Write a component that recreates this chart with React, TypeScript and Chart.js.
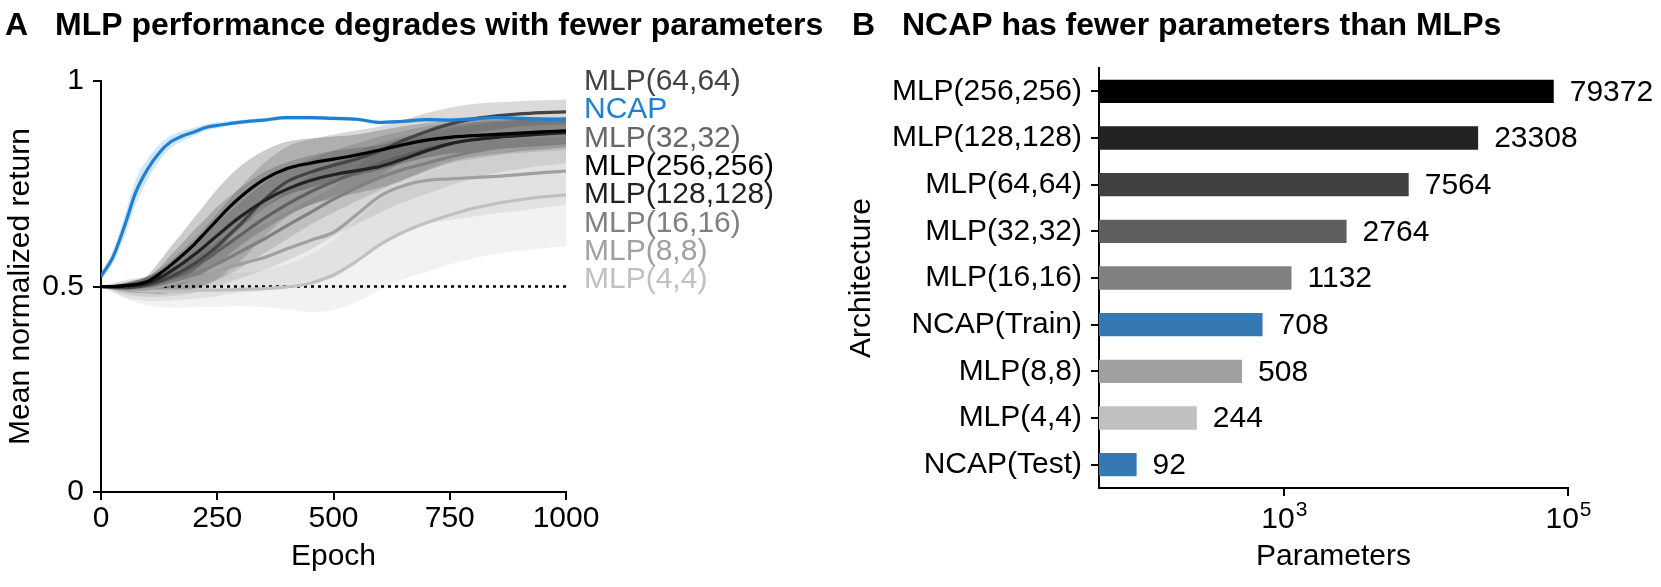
import React, { useEffect, useRef } from 'react';
import { Chart, registerables } from 'chart.js';

Chart.register(...registerables);

const FONT = '"Liberation Sans", Arial, Helvetica, sans-serif';

// ---------- Panel A data ----------
const epochs = [0, 25, 50, 75, 100, 125, 150, 175, 200, 225, 250, 275, 300, 350, 400, 450, 500, 550, 600, 650, 700, 750, 800, 850, 900, 950, 1000];

const ncapMean = [0.525, 0.57, 0.645, 0.73, 0.785, 0.825, 0.852, 0.866, 0.876, 0.887, 0.892, 0.896, 0.9, 0.905, 0.911, 0.911, 0.909, 0.907, 0.899, 0.902, 0.906, 0.905, 0.908, 0.911, 0.909, 0.907, 0.906];
const ncapStd = [0.01, 0.015, 0.025, 0.03, 0.025, 0.02, 0.015, 0.012, 0.01, 0.008, 0.007, 0.006, 0.005, 0.005, 0.005, 0.005, 0.005, 0.005, 0.005, 0.005, 0.005, 0.005, 0.005, 0.005, 0.005, 0.005, 0.005];

const mlp256Mean = [0.5, 0.5, 0.502, 0.505, 0.512, 0.53, 0.552, 0.576, 0.602, 0.632, 0.662, 0.692, 0.718, 0.76, 0.787, 0.8, 0.81, 0.82, 0.832, 0.845, 0.856, 0.863, 0.867, 0.87, 0.873, 0.876, 0.879];
const mlp256Std = [0, 0.003, 0.006, 0.01, 0.015, 0.03, 0.045, 0.055, 0.065, 0.07, 0.075, 0.075, 0.075, 0.07, 0.065, 0.06, 0.055, 0.05, 0.048, 0.045, 0.042, 0.04, 0.038, 0.036, 0.035, 0.034, 0.033];

const mlp128Mean = [0.5, 0.5, 0.501, 0.503, 0.508, 0.52, 0.537, 0.556, 0.577, 0.6, 0.624, 0.648, 0.67, 0.708, 0.737, 0.758, 0.772, 0.782, 0.792, 0.81, 0.83, 0.847, 0.857, 0.863, 0.867, 0.871, 0.875];
const mlp128Std = [0, 0.003, 0.006, 0.01, 0.015, 0.025, 0.04, 0.05, 0.06, 0.065, 0.07, 0.07, 0.07, 0.07, 0.065, 0.06, 0.058, 0.055, 0.052, 0.05, 0.047, 0.044, 0.042, 0.04, 0.038, 0.037, 0.036];

const mlp64Mean = [0.5, 0.498, 0.497, 0.499, 0.504, 0.512, 0.524, 0.538, 0.555, 0.575, 0.598, 0.625, 0.652, 0.71, 0.755, 0.778, 0.795, 0.81, 0.83, 0.855, 0.877, 0.895, 0.908, 0.915, 0.92, 0.923, 0.925];
const mlp64Std = [0, 0.005, 0.01, 0.015, 0.02, 0.03, 0.04, 0.05, 0.06, 0.07, 0.08, 0.085, 0.09, 0.09, 0.085, 0.08, 0.075, 0.07, 0.06, 0.05, 0.045, 0.04, 0.036, 0.033, 0.031, 0.03, 0.03];

const mlp32Mean = [0.5, 0.499, 0.498, 0.5, 0.503, 0.51, 0.52, 0.533, 0.548, 0.565, 0.585, 0.605, 0.625, 0.665, 0.7, 0.73, 0.755, 0.778, 0.8, 0.818, 0.835, 0.848, 0.857, 0.864, 0.868, 0.871, 0.873];
const mlp32Std = [0, 0.005, 0.01, 0.015, 0.02, 0.028, 0.035, 0.045, 0.055, 0.062, 0.07, 0.075, 0.08, 0.085, 0.085, 0.08, 0.075, 0.07, 0.065, 0.06, 0.055, 0.05, 0.047, 0.045, 0.043, 0.042, 0.04];

const mlp16Mean = [0.5, 0.498, 0.496, 0.497, 0.5, 0.505, 0.512, 0.52, 0.53, 0.542, 0.555, 0.57, 0.585, 0.615, 0.648, 0.68, 0.712, 0.74, 0.765, 0.785, 0.8, 0.815, 0.828, 0.838, 0.846, 0.852, 0.856];
const mlp16Std = [0, 0.008, 0.015, 0.02, 0.025, 0.03, 0.035, 0.04, 0.045, 0.05, 0.055, 0.06, 0.065, 0.075, 0.085, 0.09, 0.09, 0.088, 0.085, 0.08, 0.075, 0.07, 0.065, 0.062, 0.06, 0.058, 0.056];

const mlp8Mean = [0.5, 0.497, 0.494, 0.493, 0.495, 0.5, 0.506, 0.513, 0.52, 0.528, 0.537, 0.547, 0.555, 0.57, 0.592, 0.612, 0.632, 0.675, 0.72, 0.745, 0.758, 0.762, 0.765, 0.768, 0.772, 0.777, 0.781];
const mlp8Std = [0, 0.01, 0.02, 0.025, 0.03, 0.035, 0.04, 0.045, 0.05, 0.055, 0.06, 0.065, 0.07, 0.08, 0.09, 0.1, 0.11, 0.115, 0.115, 0.11, 0.105, 0.1, 0.095, 0.09, 0.088, 0.085, 0.083];

const mlp4Mean = [0.5, 0.497, 0.494, 0.491, 0.489, 0.488, 0.488, 0.489, 0.49, 0.491, 0.491, 0.492, 0.493, 0.495, 0.499, 0.508, 0.528, 0.562, 0.602, 0.632, 0.655, 0.674, 0.69, 0.702, 0.711, 0.718, 0.723];
const mlp4Std = [0, 0.012, 0.022, 0.03, 0.035, 0.038, 0.04, 0.04, 0.04, 0.04, 0.04, 0.04, 0.04, 0.045, 0.055, 0.07, 0.085, 0.1, 0.11, 0.115, 0.12, 0.12, 0.122, 0.123, 0.124, 0.125, 0.125];

const chanceLevel = 0.5;
const yTicksA = [0, 0.5, 1];
const yTickLabelsA = ['0', '0.5', '1'];
const xTicksA = [0, 250, 500, 750, 1000];
const xTickLabelsA = ['0', '250', '500', '750', '1000'];

const curveLabels = ['MLP(64,64)', 'NCAP', 'MLP(32,32)', 'MLP(256,256)', 'MLP(128,128)', 'MLP(16,16)', 'MLP(8,8)', 'MLP(4,4)'];
const curveLabelColors = ['#444444', '#1f80d2', '#666666', '#000000', '#222222', '#808080', '#a0a0a0', '#c0c0c0'];

// ---------- Panel B data ----------
const archLabels = ['MLP(256,256)', 'MLP(128,128)', 'MLP(64,64)', 'MLP(32,32)', 'MLP(16,16)', 'NCAP(Train)', 'MLP(8,8)', 'MLP(4,4)', 'NCAP(Test)'];
const paramCounts = [79372, 23308, 7564, 2764, 1132, 708, 508, 244, 92];
const barColors = ['#000000', '#222222', '#404040', '#5f5f5f', '#808080', '#3478b4', '#a0a0a0', '#c0c0c0', '#3478b4'];
const xTicksB = [1000, 100000];
const xTickBaseB = ['10', '10'];
const xTickExpB = ['3', '5'];

function rgba(hex: string, a: number) {
  const n = parseInt(hex.slice(1), 16);
  return `rgba(${(n >> 16) & 255},${(n >> 8) & 255},${n & 255},${a})`;
}

const seriesA = [
  { mean: mlp4Mean, std: mlp4Std, color: '#c0c0c0' },
  { mean: mlp8Mean, std: mlp8Std, color: '#a0a0a0' },
  { mean: mlp16Mean, std: mlp16Std, color: '#808080' },
  { mean: mlp32Mean, std: mlp32Std, color: '#606060' },
  { mean: mlp64Mean, std: mlp64Std, color: '#444444' },
  { mean: mlp128Mean, std: mlp128Std, color: '#222222' },
  { mean: mlp256Mean, std: mlp256Std, color: '#000000' },
  { mean: ncapMean, std: ncapStd, color: '#1f80d2' },
];

function titlePlugin(letter: string, letterX: number, text: string, textX: number) {
  return {
    id: 'panelTitle' + letter,
    afterDraw(chart: any) {
      const ctx = chart.ctx;
      ctx.save();
      ctx.fillStyle = '#000';
      ctx.textBaseline = 'alphabetic';
      ctx.textAlign = 'left';
      ctx.font = `bold 32px ${FONT}`;
      ctx.fillText(letter, letterX, 35);
      ctx.fillText(text, textX, 35);
      ctx.restore();
    },
  };
}

export default function App() {
  const refA = useRef<HTMLCanvasElement>(null);
  const refB = useRef<HTMLCanvasElement>(null);

  useEffect(() => {
    Chart.defaults.font.family = FONT;
    Chart.defaults.color = '#000';

    // ---------- Chart A ----------
    const datasets: any[] = [];
    seriesA.forEach((s, k) => {
      datasets.push({
        data: epochs.map((e, i) => ({ x: e, y: s.mean[i] + s.std[i] })),
        borderWidth: 0,
        pointRadius: 0,
        fill: '+1',
        backgroundColor: rgba(s.color, 0.2),
        cubicInterpolationMode: 'monotone',
        order: 200 - k * 2,
      });
      datasets.push({
        data: epochs.map((e, i) => ({ x: e, y: s.mean[i] - s.std[i] })),
        borderWidth: 0,
        pointRadius: 0,
        fill: false,
        cubicInterpolationMode: 'monotone',
        order: 199 - k * 2,
      });
    });
    datasets.push({
      data: [{ x: 0, y: chanceLevel }, { x: 1000, y: chanceLevel }],
      borderColor: '#000',
      borderWidth: 2.5,
      borderDash: [3, 4],
      pointRadius: 0,
      fill: false,
      order: 60,
    });
    seriesA.forEach((s, k) => {
      const isNcap = k === seriesA.length - 1;
      datasets.push({
        data: epochs.map((e, i) => ({ x: e, y: s.mean[i] })),
        borderColor: s.color,
        borderWidth: 3.2,
        pointRadius: 0,
        fill: false,
        cubicInterpolationMode: 'monotone',
        order: isNcap ? 0 : 50 - k,
      });
    });

    const rightLabels = {
      id: 'rightLabels',
      afterDraw(chart: any) {
        const ctx = chart.ctx;
        const y0 = chart.scales.y.getPixelForValue(1);
        const x0 = chart.chartArea.right + 18;
        ctx.save();
        ctx.font = `30px ${FONT}`;
        ctx.textAlign = 'left';
        ctx.textBaseline = 'alphabetic';
        curveLabels.forEach((t, i) => {
          ctx.fillStyle = curveLabelColors[i];
          ctx.fillText(t, x0, y0 + 9 + i * 28.3);
        });
        ctx.restore();
      },
    };

    const chartA = new Chart(refA.current!, {
      type: 'line',
      data: { datasets },
      options: {
        animation: false,
        responsive: false,
        devicePixelRatio: 1,
        layout: { padding: { top: 81, right: 264, bottom: 0, left: 0 } },
        plugins: { legend: { display: false }, tooltip: { enabled: false } },
        scales: {
          x: {
            type: 'linear',
            min: 0,
            max: 1000,
            afterFit: (s: any) => { s.height = 95; },
            afterBuildTicks: (s: any) => { s.ticks = xTicksA.map((v) => ({ value: v })); },
            border: { display: true, color: '#000', width: 2 },
            grid: { display: true, drawOnChartArea: false, drawTicks: true, tickLength: 8, color: '#000', lineWidth: 2 },
            ticks: {
              font: { size: 30 },
              padding: 1,
              maxRotation: 0,
              autoSkip: false,
              color: '#000',
              callback: (v: any) => xTickLabelsA[xTicksA.indexOf(Number(v))] ?? '',
            },
            title: { display: true, text: 'Epoch', font: { size: 30 }, padding: { top: 0, bottom: 12 }, color: '#000' },
          },
          y: {
            type: 'linear',
            min: 0,
            max: 1,
            afterFit: (s: any) => { s.width = 101; },
            afterBuildTicks: (s: any) => { s.ticks = yTicksA.map((v) => ({ value: v })); },
            border: { display: true, color: '#000', width: 2 },
            grid: { display: true, drawOnChartArea: false, drawTicks: true, tickLength: 8, color: '#000', lineWidth: 2 },
            ticks: {
              font: { size: 30 },
              padding: 9,
              color: '#000',
              callback: (v: any) => yTickLabelsA[yTicksA.indexOf(Number(v))] ?? '',
            },
            title: { display: true, text: 'Mean normalized return', font: { size: 30 }, padding: { top: 3, bottom: 0 }, color: '#000' },
          },
        },
      } as any,
      plugins: [rightLabels, titlePlugin('A', 5, 'MLP performance degrades with fewer parameters', 55)],
    });

    // ---------- Chart B ----------
    const valueLabels = {
      id: 'valueLabels',
      afterDatasetsDraw(chart: any) {
        const ctx = chart.ctx;
        const meta = chart.getDatasetMeta(0);
        ctx.save();
        ctx.font = `30px ${FONT}`;
        ctx.fillStyle = '#000';
        ctx.textAlign = 'left';
        ctx.textBaseline = 'middle';
        meta.data.forEach((bar: any, i: number) => {
          ctx.fillText(String(paramCounts[i]), bar.x + 16, bar.y + 1);
        });
        ctx.restore();
      },
    };

    const powerLabels = {
      id: 'powerLabels',
      afterDraw(chart: any) {
        const ctx = chart.ctx;
        const sx = chart.scales.x;
        const yBase = chart.chartArea.bottom + 40;
        ctx.save();
        ctx.fillStyle = '#000';
        ctx.textBaseline = 'alphabetic';
        ctx.textAlign = 'left';
        xTicksB.forEach((v, i) => {
          const px = sx.getPixelForValue(v);
          ctx.font = `30px ${FONT}`;
          const wBase = ctx.measureText(xTickBaseB[i]).width;
          ctx.font = `21px ${FONT}`;
          const wExp = ctx.measureText(xTickExpB[i]).width;
          const left = px - (wBase + wExp) / 2;
          ctx.font = `30px ${FONT}`;
          ctx.fillText(xTickBaseB[i], left, yBase);
          ctx.font = `21px ${FONT}`;
          ctx.fillText(xTickExpB[i], left + wBase + 1, yBase - 12);
        });
        ctx.restore();
      },
    };

    const chartB = new Chart(refB.current!, {
      type: 'bar',
      data: {
        labels: archLabels,
        datasets: [{ data: paramCounts, backgroundColor: barColors, categoryPercentage: 1, barPercentage: 0.5, borderWidth: 0 }],
      },
      options: {
        indexAxis: 'y',
        animation: false,
        responsive: false,
        devicePixelRatio: 1,
        layout: { padding: { top: 68, right: 93, bottom: 0, left: 0 } },
        plugins: { legend: { display: false }, tooltip: { enabled: false } },
        scales: {
          x: {
            type: 'logarithmic',
            min: 50,
            max: 100000,
            afterFit: (s: any) => { s.height = 99; },
            afterBuildTicks: (s: any) => { s.ticks = xTicksB.map((v) => ({ value: v })); },
            border: { display: true, color: '#000', width: 2 },
            grid: { display: true, drawOnChartArea: false, drawTicks: true, tickLength: 8, color: '#000', lineWidth: 2 },
            ticks: {
              display: false,
              autoSkip: false,
            },
            title: { display: true, text: 'Parameters', font: { size: 30 }, padding: { top: 0, bottom: 12 }, color: '#000' },
          },
          y: {
            type: 'category',
            afterFit: (s: any) => { s.width = 299; },
            border: { display: true, color: '#000', width: 2 },
            grid: { display: true, offset: false, drawOnChartArea: false, drawTicks: true, tickLength: 8, color: '#000', lineWidth: 2 },
            ticks: { font: { size: 30 }, padding: 9, autoSkip: false, color: '#000' },
            title: { display: true, text: 'Architecture', font: { size: 30 }, padding: { top: 44, bottom: 0 }, color: '#000' },
          },
        },
      } as any,
      plugins: [valueLabels, powerLabels, titlePlugin('B', 52, 'NCAP has fewer parameters than MLPs', 102)],
    });

    return () => {
      chartA.destroy();
      chartB.destroy();
    };
  }, []);

  return (
    <div style={{ position: 'fixed', left: 0, top: 0, width: 1661, height: 587, background: '#fff' }}>
      <canvas ref={refA} width={830} height={587} style={{ position: 'absolute', left: 0, top: 0, width: 830, height: 587 }} />
      <canvas ref={refB} width={861} height={587} style={{ position: 'absolute', left: 800, top: 0, width: 861, height: 587 }} />
    </div>
  );
}
